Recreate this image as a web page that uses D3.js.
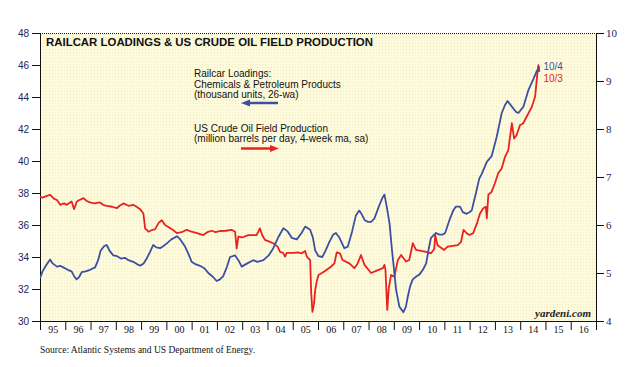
<!DOCTYPE html>
<html>
<head>
<meta charset="utf-8">
<script src="https://cdn.jsdelivr.net/npm/d3@7"></script>
<style>
  html, body { margin: 0; padding: 0; background: #ffffff; }
  svg { display: block; }
</style>
</head>
<body>
<svg id="chart" width="636" height="367"></svg>
<script>
// ---------------- DATA ----------------
const yearLabels = ["95","96","97","98","99","00","01","02","03","04","05","06","07","08","09","10","11","12","13","14","15","16"];
const leftTicks = [30, 32, 34, 36, 38, 40, 42, 44, 46, 48];
const rightTicks = [4, 5, 6, 7, 8, 9, 10];

// Railcar loadings: chemicals & petroleum products (thousand units, 26-wa), left axis
const railDates = [1995.00,1995.10,1995.25,1995.40,1995.50,1995.67,1995.80,1995.92,1996.10,1996.25,1996.35,1996.45,1996.55,1996.65,1996.80,1996.98,
  1997.18,1997.30,1997.40,1997.55,1997.64,1997.75,1997.90,1998.05,1998.20,1998.36,1998.50,1998.69,1998.85,1998.96,
  1999.10,1999.22,1999.35,1999.48,1999.60,1999.75,1999.90,2000.02,2000.20,2000.42,2000.55,2000.74,2000.90,
  2001.00,2001.15,2001.33,2001.50,2001.66,2001.85,2001.99,2002.12,2002.25,2002.40,2002.52,2002.72,2002.85,2002.98,
  2003.20,2003.44,2003.60,2003.84,2004.05,2004.23,2004.45,2004.63,2004.80,2004.96,2005.16,2005.35,2005.49,2005.69,2005.80,2005.89,
  2006.02,2006.17,2006.30,2006.45,2006.60,2006.71,2006.85,2007.04,2007.18,2007.35,2007.50,2007.63,2007.72,2007.85,2007.97,
  2008.10,2008.23,2008.43,2008.55,2008.63,2008.72,2008.83,2008.93,2009.09,2009.22,2009.38,2009.48,2009.55,2009.65,2009.75,2009.90,
  2010.01,2010.15,2010.28,2010.38,2010.47,2010.67,2010.80,2010.94,2011.03,2011.20,2011.35,2011.46,2011.62,2011.73,2011.88,2011.99,
  2012.08,2012.25,2012.38,2012.48,2012.68,2012.87,2013.07,2013.27,2013.40,2013.50,2013.67,2013.85,2013.93,2014.13,2014.33,2014.53,2014.65,2014.76];
const railValues = [32.67,33.1,33.5,33.85,33.6,33.4,33.45,33.35,33.2,33.1,32.8,32.6,32.75,33.05,33.1,33.2,
  33.35,33.8,34.4,34.7,34.75,34.4,34.1,34.05,33.9,33.95,33.8,33.7,33.55,33.45,
  33.6,33.9,34.3,34.75,34.6,34.55,34.7,34.85,35.1,35.3,35.1,34.65,34.1,
  33.7,33.55,33.45,33.3,33.0,32.75,32.5,32.6,32.8,33.4,34.0,34.1,33.8,33.4,
  33.6,33.8,33.7,33.8,34.1,34.55,35.3,35.8,35.6,35.2,35.1,35.5,35.9,35.7,35.2,34.4,
  34.05,34.0,34.4,34.95,35.4,35.5,35.2,34.55,34.65,35.6,36.6,36.9,36.7,36.3,36.2,
  36.2,36.4,37.25,37.7,37.9,37.15,36.1,34.4,31.95,30.9,30.55,30.9,31.5,32.2,32.6,32.8,
  32.9,33.2,33.6,34.5,35.2,35.5,35.4,35.4,35.5,36.3,36.9,37.15,37.15,36.8,36.7,36.8,
  36.9,38.0,38.9,39.2,39.95,40.3,41.5,43.0,43.5,43.75,43.4,43.05,43.0,43.4,44.45,45.15,45.6,45.9];

// US crude oil field production (million barrels per day, 4-week ma, sa), right axis
const oilDates = [1995.00,1995.10,1995.25,1995.40,1995.55,1995.67,1995.80,1995.95,1996.06,1996.25,1996.35,1996.45,1996.52,1996.72,1996.85,1996.98,
  1997.15,1997.37,1997.50,1997.64,1997.85,1998.04,1998.15,1998.30,1998.50,1998.69,1998.85,1998.96,
  1999.09,1999.16,1999.29,1999.45,1999.55,1999.70,1999.82,1999.95,2000.08,2000.25,2000.42,2000.60,2000.81,
  2001.00,2001.21,2001.46,2001.62,2001.79,2001.95,2002.12,2002.35,2002.58,2002.72,2002.78,2002.85,
  2003.00,2003.24,2003.57,2003.70,2003.80,2003.90,2004.05,2004.23,2004.40,2004.50,2004.62,2004.70,2004.76,
  2005.03,2005.20,2005.36,2005.49,2005.56,2005.69,2005.73,2005.78,2005.84,2005.89,2005.96,2006.02,
  2006.25,2006.51,2006.65,2006.74,2006.87,2006.97,2007.24,2007.44,2007.57,2007.70,2007.84,
  2008.10,2008.37,2008.57,2008.63,2008.67,2008.74,2008.80,2008.89,2009.02,2009.16,2009.29,2009.48,2009.61,2009.75,2009.88,
  2010.28,2010.47,2010.60,2010.64,2010.73,2010.99,2011.13,2011.53,2011.66,2011.76,2011.90,2012.00,2012.14,
  2012.30,2012.41,2012.54,2012.64,2012.68,2012.74,2012.87,2013.00,2013.13,2013.27,2013.40,2013.53,2013.67,2013.76,2013.86,
  2013.99,2014.12,2014.26,2014.46,2014.59,2014.68,2014.72,2014.76];
const oilValues = [6.59,6.57,6.60,6.63,6.55,6.52,6.42,6.45,6.42,6.49,6.33,6.48,6.51,6.56,6.50,6.47,
  6.45,6.47,6.42,6.40,6.38,6.35,6.40,6.45,6.40,6.42,6.37,6.33,
  6.24,5.93,5.86,5.90,5.91,6.05,6.10,6.00,5.96,5.90,5.83,5.85,5.90,
  5.86,5.83,5.79,5.85,5.88,5.85,5.875,5.88,5.90,5.86,5.51,5.76,
  5.74,5.79,5.79,5.93,5.78,5.69,5.66,5.62,5.55,5.44,5.42,5.34,5.42,
  5.42,5.43,5.41,5.46,5.34,5.27,4.60,4.19,4.35,4.65,4.85,4.96,
  5.03,5.13,5.20,5.43,5.41,5.27,5.20,5.10,5.20,5.375,5.17,
  5.00,5.06,5.10,5.17,5.06,4.23,4.68,4.96,4.92,5.27,5.375,5.24,5.27,5.62,5.48,
  5.44,5.41,5.50,5.79,5.58,5.48,5.55,5.58,5.65,5.90,5.82,5.79,5.83,
  6.05,6.24,6.35,6.38,6.14,6.63,6.69,6.87,7.08,7.18,7.42,7.56,8.12,7.80,7.875,
  8.08,8.12,8.26,8.46,8.67,9.16,9.33,9.19];

const railEndLabel = "10/4";
const oilEndLabel = "10/3";

// ---------------- LAYOUT ----------------
const svg = d3.select("#chart");
const L = 40, R = 596, T = 33, B = 321;
const blue = "#3d4fa3", red = "#e8231f", navy = "#23235e";

const x = d3.scaleLinear().domain([1995, 2017]).range([L, R]);
const yL = d3.scaleLinear().domain([30, 48]).range([B, T]);
const yR = d3.scaleLinear().domain([4, 10]).range([B, T]);

// background with faint dotted texture
const defs = svg.append("defs");
const pat = defs.append("pattern").attr("id", "dots").attr("width", 3).attr("height", 3).attr("patternUnits", "userSpaceOnUse");
pat.append("rect").attr("width", 3).attr("height", 3).attr("fill", "#fefbdc");
pat.append("rect").attr("x", 1).attr("y", 1).attr("width", 1).attr("height", 1).attr("fill", "#efe9c6");
svg.append("rect").attr("x", L).attr("y", T).attr("width", R - L).attr("height", B - T).attr("fill", "url(#dots)");

// top border dotted
svg.append("line").attr("x1", L).attr("x2", R).attr("y1", T + 0.5).attr("y2", T + 0.5)
  .attr("stroke", "#222").attr("stroke-width", 1).attr("stroke-dasharray", "1,1");

// Left axis
const gL = svg.append("g").attr("transform", `translate(${L},0)`);
gL.call(d3.axisLeft(yL).tickValues(d3.range(31, 48, 2)).tickSize(5).tickFormat(""));
gL.call(d3.axisLeft(yL).tickValues(leftTicks).tickSize(8).tickPadding(3).tickFormat(d3.format("d")));
gL.selectAll("path.domain").attr("stroke", "#111");
gL.selectAll(".tick line").attr("stroke", "#111");
gL.selectAll("text").attr("font-family", "Liberation Sans, Arial, sans-serif").attr("font-size", 10).attr("fill", navy);

// Right axis
const gR = svg.append("g").attr("transform", `translate(${R},0)`);
gR.call(d3.axisRight(yR).tickValues(d3.range(4.5, 10, 1)).tickSize(5).tickFormat(""));
gR.call(d3.axisRight(yR).tickValues(rightTicks).tickSize(8).tickPadding(2).tickFormat(d3.format("d")));
gR.selectAll("path.domain").attr("stroke", "#111");
gR.selectAll(".tick line").attr("stroke", "#111");
gR.selectAll("text").attr("font-family", "Liberation Serif, Times New Roman, serif").attr("font-size", 11).attr("fill", navy);

// Bottom axis
const gB = svg.append("g").attr("transform", `translate(0,${B})`);
gB.call(d3.axisBottom(x).tickValues(d3.range(1995, 2018, 1)).tickSize(9).tickFormat(""));
gB.selectAll("path.domain").attr("stroke", "#111");
gB.selectAll(".tick line").attr("stroke", "#111");
const gB2 = svg.append("g").attr("transform", `translate(0,${B})`);
gB2.call(d3.axisBottom(x).tickValues(yearLabels.map((d, i) => 1995.5 + i)).tickSize(0).tickPadding(5)
  .tickFormat((d, i) => yearLabels[i]));
gB2.select("path.domain").remove();
gB2.selectAll("text").attr("font-family", "Liberation Serif, Times New Roman, serif").attr("font-size", 10).attr("fill", "#111");

// Lines
const clipId = "plotclip";
defs.append("clipPath").attr("id", clipId).append("rect").attr("x", L).attr("y", T).attr("width", R - L).attr("height", B - T);

const oilLine = d3.line().x((d, i) => x(oilDates[i])).y(d => yR(d)).curve(d3.curveLinear);
const railLine = d3.line().x((d, i) => x(railDates[i])).y(d => yL(d)).curve(d3.curveLinear);

svg.append("path").datum(oilValues).attr("d", oilLine).attr("fill", "none")
  .attr("stroke", red).attr("stroke-width", 1.8).attr("stroke-linejoin", "round").attr("clip-path", `url(#${clipId})`);
svg.append("path").datum(railValues).attr("d", railLine).attr("fill", "none")
  .attr("stroke", blue).attr("stroke-width", 1.8).attr("stroke-linejoin", "round").attr("clip-path", `url(#${clipId})`);

// End labels
const lastRail = railValues.length - 1, lastOil = oilValues.length - 1;
svg.append("text").attr("x", x(railDates[lastRail]) + 4).attr("y", yL(railValues[lastRail]) + 3.5)
  .text(railEndLabel).attr("font-family", "Liberation Sans, Arial, sans-serif").attr("font-size", 10).attr("fill", blue);
svg.append("text").attr("x", x(railDates[lastRail]) + 4).attr("y", yL(railValues[lastRail]) + 15)
  .text(oilEndLabel).attr("font-family", "Liberation Sans, Arial, sans-serif").attr("font-size", 10).attr("fill", red);

// Title
svg.append("text").attr("x", 46).attr("y", 45.5).text("RAILCAR LOADINGS & US CRUDE OIL FIELD PRODUCTION")
  .attr("font-family", "Liberation Sans, Arial, sans-serif").attr("font-weight", "bold").attr("font-size", 11)
  .attr("textLength", 327).attr("lengthAdjust", "spacingAndGlyphs").attr("fill", "#111");

// Legend text
const legendFont = "Liberation Sans, Arial, sans-serif";
const legendLines = [
  ["Railcar Loadings:", 77],
  ["Chemicals & Petroleum Products", 87.5],
  ["(thousand units, 26-wa)", 98],
  ["US Crude Oil Field Production", 131.5],
  ["(million barrels per day, 4-week ma, sa)", 142]
];
legendLines.forEach(([t, yy]) => {
  svg.append("text").attr("x", 194).attr("y", yy).text(t)
    .attr("font-family", legendFont).attr("font-size", 10).attr("fill", "#111");
});

// Legend arrows
function arrow(x1, x2, y, color, leftHead) {
  const g = svg.append("g");
  const hx = leftHead ? x1 : x2;
  const dir = leftHead ? 1 : -1;
  g.append("line").attr("x1", leftHead ? x1 + 6 : x1).attr("x2", leftHead ? x2 : x2 - 6).attr("y1", y).attr("y2", y)
    .attr("stroke", color).attr("stroke-width", 2.5);
  g.append("path").attr("d", `M${hx},${y} L${hx + dir * 9},${y - 3.5} L${hx + dir * 9},${y + 3.5} Z`).attr("fill", color);
}
arrow(241, 278, 103, blue, true);
arrow(241, 279, 148.5, red, false);

// watermark
svg.append("text").attr("x", 591).attr("y", 316.5).attr("text-anchor", "end").text("yardeni.com")
  .attr("font-family", "Liberation Serif, Times New Roman, serif").attr("font-style", "italic").attr("font-weight", "bold")
  .attr("font-size", 11).attr("fill", "#222");

// source
svg.append("text").attr("x", 40).attr("y", 353).text("Source: Atlantic Systems and US Department of Energy.")
  .attr("font-family", "Liberation Serif, Times New Roman, serif").attr("font-size", 9.5).attr("fill", "#111");
</script>
</body>
</html>
